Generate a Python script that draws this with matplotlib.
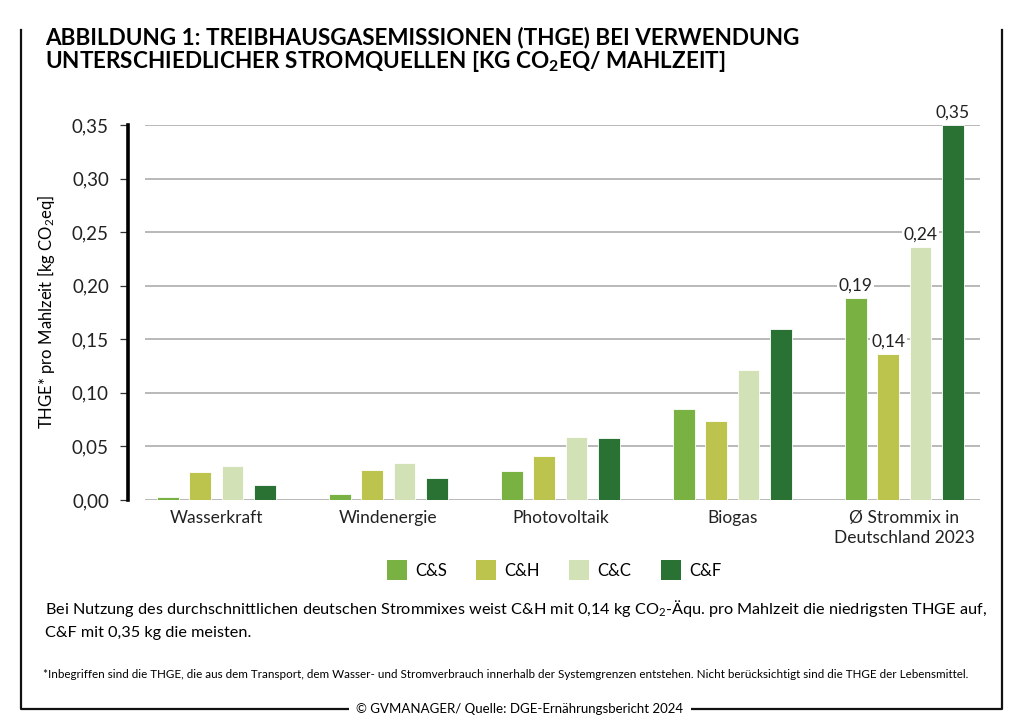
import numpy as np
import matplotlib.pyplot as plt
from matplotlib.patches import Patch
from matplotlib.lines import Line2D

# data
categories = ['Wasserkraft', 'Windenergie', 'Photovoltaik', 'Biogas',
              'Ø Strommix in\nDeutschland 2023']
series = ['C&S', 'C&H', 'C&C', 'C&F']
cs = [0.0025, 0.0055, 0.027, 0.085, 0.189]
ch = [0.026, 0.028, 0.041, 0.074, 0.136]
cc = [0.032, 0.035, 0.059, 0.121, 0.236]
cf = [0.014, 0.021, 0.058, 0.160, 0.350]
values = [cs, ch, cc, cf]
colors = ['#79b143', '#bdc44e', '#d2e1b6', '#2a7233']
labelled = {'C&S': '0,19', 'C&H': '0,14', 'C&C': '0,24', 'C&F': '0,35'}
yticks = [0.0, 0.05, 0.10, 0.15, 0.20, 0.25, 0.30, 0.35]

plt.rcParams['font.family'] = ['Lato', 'DejaVu Sans']
plt.rcParams['mathtext.fontset'] = 'custom'
plt.rcParams['mathtext.rm'] = 'Lato'
plt.rcParams['mathtext.it'] = 'Lato'
plt.rcParams['mathtext.bf'] = 'Lato:bold'

W, H = 1024, 727
fig = plt.figure(figsize=(W / 100, H / 100), dpi=100)
ax = fig.add_axes([145 / W, 1 - 500 / H, 835 / W, 375 / H])

x = np.arange(len(categories))
bw = 0.125
step = 0.188
offsets = (np.arange(4) - 1.5) * step
for i, name in enumerate(series):
    ax.bar(x + offsets[i], values[i], bw, color=colors[i], edgecolor='white',
           linewidth=0.6, zorder=3)
    # label the German mix bars
    ax.text(x[-1] + offsets[i], values[i][-1] + 0.004, labelled[name],
            ha='center', va='bottom', fontsize=12.5, color='#222222', zorder=4,
            bbox=dict(boxstyle='square,pad=0.08', fc='white', ec='none'))

ax.set_xlim(-0.415, 4.44)
ax.set_ylim(0, 0.35)
ax.set_yticks(yticks)
ax.set_yticklabels([f'{v:.2f}'.replace('.', ',') for v in yticks])
ax.yaxis.grid(True, color='#b3b3b3', linewidth=1.3, zorder=0)
ax.set_axisbelow(True)
for s in ['top', 'right', 'bottom']:
    ax.spines[s].set_visible(False)
ax.spines['left'].set_position(('outward', 12))
ax.spines['left'].set_linewidth(2.6)
ax.spines['left'].set_bounds(0, 0.35)
ax.tick_params(axis='y', direction='out', length=6, width=0.9, color='#333333',
               pad=8, labelsize=13.5, labelcolor='#222222')
ax.set_xticks(x)
ax.set_xticklabels(categories, linespacing=1.3)
ax.tick_params(axis='x', length=0, pad=7, labelsize=12.5, labelcolor='#222222')
ax.set_ylabel('THGE* pro Mahlzeit [kg CO$_2$eq]', fontsize=12)
ax.yaxis.set_label_coords(-0.105, 0.5)

# title
fig.text(45 / W, 1 - 27 / H,
         'ABBILDUNG 1: TREIBHAUSGASEMISSIONEN (THGE) BEI VERWENDUNG\n'
         'UNTERSCHIEDLICHER STROMQUELLEN [KG CO$\\mathbf{_2}$EQ/ MAHLZEIT]',
         fontsize=16.2, fontweight='bold',
         va='top', ha='left', linespacing=1.0)

# legend
handles = [Patch(facecolor=c, edgecolor='none') for c in colors]
fig.legend(handles, series, loc='center', bbox_to_anchor=(554 / W, 1 - 570 / H),
           ncol=4, frameon=False, fontsize=12, handlelength=1.2, handleheight=1.4,
           columnspacing=1.75, handletextpad=0.5)

fig.text(45 / W, 1 - 598 / H,
         'Bei Nutzung des durchschnittlichen deutschen Strommixes weist C&H mit 0,14 kg '
         'CO$_2$-Äqu. pro Mahlzeit die niedrigsten THGE auf,\nC&F mit 0,35 kg die meisten.',
         fontsize=11.7, va='top', ha='left', linespacing=1.6)

fig.text(43 / W, 1 - 675 / H,
         '*Inbegriffen sind die THGE, die aus dem Transport, dem Wasser- und Stromverbrauch '
         'innerhalb der Systemgrenzen entstehen. Nicht berücksichtigt sind die THGE der Lebensmittel.',
         fontsize=8.4, va='center', ha='left')

# frame
fig.add_artist(Line2D([21 / W, 21 / W, 1002 / W, 1002 / W],
                      [1 - 30 / H, 1 - 709 / H, 1 - 709 / H, 1 - 30 / H],
                      color='#111111', linewidth=1.6))
fig.text(520 / W, 1 - 709 / H, '© GVMANAGER/ Quelle: DGE-Ernährungsbericht 2024',
         fontsize=9.5, ha='center', va='center',
         bbox=dict(boxstyle='square,pad=0.6', fc='white', ec='none'))

fig.savefig('out.png', dpi=100)
